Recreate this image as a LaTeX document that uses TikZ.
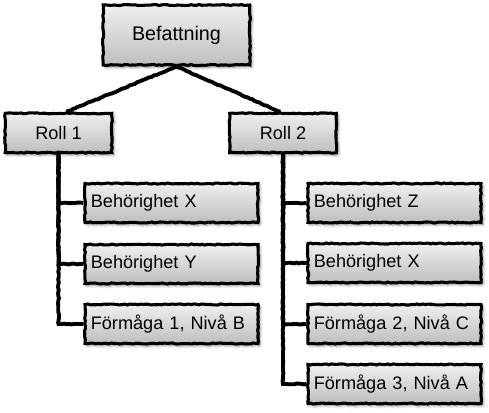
\documentclass[tikz,border=0pt]{standalone}
\usepackage{fontspec}
\setmainfont{Liberation Sans}
\usetikzlibrary{shadows.blur,decorations.pathmorphing,calc,backgrounds}
\definecolor{boxtop}{HTML}{EFEFEF}
\definecolor{boxbot}{HTML}{BEBEBE}
\tikzset{
  px/.style={x=0.75pt,y=-0.75pt},
  rough/.style={decorate,decoration={random steps,segment length=2pt,amplitude=0.4pt}},
  box/.style={draw=black,line width=2.3pt,rectangle,top color=boxtop,bottom color=boxbot,
    inner sep=0pt,font=\fontsize{13.6pt}{16pt}\selectfont,
    blur shadow={shadow xshift=1.4pt,shadow yshift=-1.6pt,shadow blur steps=6,shadow opacity=45},rough},
  kid/.style={box,minimum width=129.75pt,minimum height=29.25pt,text width=121pt,align=left},
  role/.style={box,minimum width=80pt,minimum height=29.5pt},
  conn/.style={line width=2.9pt,draw=black,rough,decoration={random steps,segment length=2pt,amplitude=0.35pt}},
}
\begin{document}
\begin{tikzpicture}[px]
\useasboundingbox (0,0) rectangle (489,413);
\node[box,minimum width=110pt,minimum height=45pt,font=\fontsize{14.8pt}{17pt}\selectfont] (bef) at (176.5,35) {Befattning};
\node[role] (r1) at (58.5,133) {Roll 1};
\node[role] (r2) at (283,133) {Roll 2};
\node[kid] (a1) at (171.5,203) {Behörighet X};
\node[kid] (a2) at (171.5,264) {Behörighet Y};
\node[kid] (a3) at (171.5,324) {Förmåga 1, Nivå B};
\node[kid] (b1) at (394.5,203) {Behörighet Z};
\node[kid] (b2) at (394.5,263) {Behörighet X};
\node[kid] (b3) at (394.5,324) {Förmåga 2, Nivå C};
\node[kid] (b4) at (394.5,384) {Förmåga 3, Nivå A};
\begin{scope}[on background layer]
\draw[conn] (bef.south) -- ($(r1.north)+(6pt,0)$);
\draw[conn] (bef.south) -- ($(r2.north)+(-2pt,0)$);
\draw[conn] (r1.south) |- (a1.west);
\draw[conn] (r1.south) |- (a2.west);
\draw[conn] (r1.south) |- (a3.west);
\draw[conn] (r2.south) |- (b1.west);
\draw[conn] (r2.south) |- (b2.west);
\draw[conn] (r2.south) |- (b3.west);
\draw[conn] (r2.south) |- (b4.west);
\end{scope}
\end{tikzpicture}
\end{document}
